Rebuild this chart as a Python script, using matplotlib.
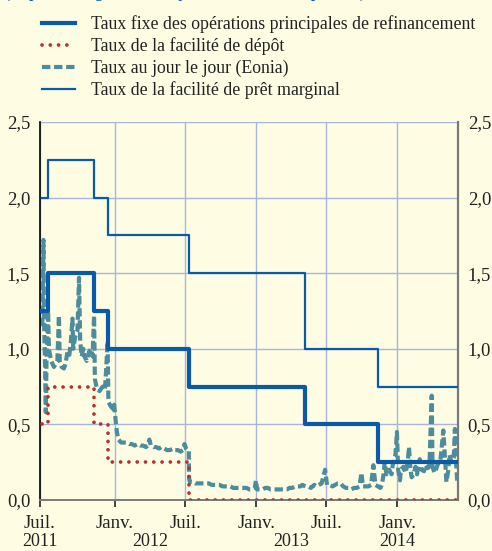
import matplotlib
matplotlib.use("Agg")
import matplotlib.pyplot as plt
from matplotlib.transforms import blended_transform_factory
import pandas as pd

plt.rcParams['font.family'] = ['Liberation Serif', 'DejaVu Serif']

# taux directeurs (dates de changement et niveaux)
key_dates = ["2011-06-27", "2011-07-13", "2011-11-09", "2011-12-14",
             "2012-07-11", "2013-05-08", "2013-11-13", "2014-06-06"]
mro = [1.25, 1.50, 1.25, 1.00, 0.75, 0.50, 0.25, 0.25]
depot = [0.50, 0.75, 0.50, 0.25, 0.00, 0.00, 0.00, 0.00]
pret_marginal = [2.00, 2.25, 2.00, 1.75, 1.50, 1.00, 0.75, 0.75]

# Eonia
eonia_dates = [
    "2011-06-27", "2011-06-30", "2011-07-01", "2011-07-04", "2011-07-06", "2011-07-08",
    "2011-07-12", "2011-07-14", "2011-07-20", "2011-07-27", "2011-08-01", "2011-08-05",
    "2011-08-09", "2011-08-11", "2011-08-16", "2011-08-22", "2011-08-26", "2011-08-31",
    "2011-09-05", "2011-09-09", "2011-09-13", "2011-09-15", "2011-09-20", "2011-09-26",
    "2011-09-30", "2011-10-03", "2011-10-07", "2011-10-11", "2011-10-14", "2011-10-20",
    "2011-10-26", "2011-10-31", "2011-11-04", "2011-11-08", "2011-11-10", "2011-11-15",
    "2011-11-22", "2011-11-30", "2011-12-06", "2011-12-09", "2011-12-13", "2011-12-15",
    "2011-12-21", "2011-12-28", "2011-12-30",
    "2012-01-03", "2012-01-06", "2012-01-10", "2012-01-17", "2012-01-24", "2012-01-31",
    "2012-02-07", "2012-02-14", "2012-02-21", "2012-02-29", "2012-03-07", "2012-03-14",
    "2012-03-21", "2012-03-26", "2012-03-30", "2012-04-03", "2012-04-10", "2012-04-17",
    "2012-04-24", "2012-04-30", "2012-05-08", "2012-05-15", "2012-05-22", "2012-05-31",
    "2012-06-05", "2012-06-12", "2012-06-19", "2012-06-25", "2012-06-29", "2012-07-03",
    "2012-07-06", "2012-07-10", "2012-07-11", "2012-07-13", "2012-07-20", "2012-07-27",
    "2012-08-03", "2012-08-10", "2012-08-17", "2012-08-24", "2012-08-31", "2012-09-07",
    "2012-09-14", "2012-09-21", "2012-09-28", "2012-10-05", "2012-10-12", "2012-10-19",
    "2012-10-26", "2012-11-02", "2012-11-09", "2012-11-16", "2012-11-23", "2012-11-30",
    "2012-12-07", "2012-12-14", "2012-12-21", "2012-12-28", "2012-12-31",
    "2013-01-03", "2013-01-10", "2013-01-17", "2013-01-24", "2013-01-31", "2013-02-07",
    "2013-02-14", "2013-02-21", "2013-02-28", "2013-03-07", "2013-03-14", "2013-03-21",
    "2013-03-28", "2013-04-04", "2013-04-11", "2013-04-18", "2013-04-25", "2013-04-30",
    "2013-05-08", "2013-05-15", "2013-05-22", "2013-05-31", "2013-06-05", "2013-06-12",
    "2013-06-19", "2013-06-28", "2013-07-03", "2013-07-10", "2013-07-17", "2013-07-24",
    "2013-07-31", "2013-08-07", "2013-08-14", "2013-08-21", "2013-08-28", "2013-09-04",
    "2013-09-11", "2013-09-18", "2013-09-25", "2013-09-30", "2013-10-04", "2013-10-11",
    "2013-10-18", "2013-10-25", "2013-10-31", "2013-11-05", "2013-11-12", "2013-11-18",
    "2013-11-22", "2013-11-27", "2013-11-29", "2013-12-04", "2013-12-11", "2013-12-17",
    "2013-12-20", "2013-12-27", "2013-12-31",
    "2014-01-03", "2014-01-08", "2014-01-10", "2014-01-17", "2014-01-22", "2014-01-28",
    "2014-01-31", "2014-02-04", "2014-02-07", "2014-02-12", "2014-02-17", "2014-02-21",
    "2014-02-28", "2014-03-05", "2014-03-11", "2014-03-14", "2014-03-20", "2014-03-25",
    "2014-03-31", "2014-04-02", "2014-04-07", "2014-04-11", "2014-04-16", "2014-04-22",
    "2014-04-30", "2014-05-05", "2014-05-08", "2014-05-13", "2014-05-16", "2014-05-21",
    "2014-05-27", "2014-05-30", "2014-06-02", "2014-06-05",
]
eonia = [
    1.15, 1.72, 1.25, 0.90, 0.58, 0.95,
    1.25, 1.00, 0.92, 0.88, 0.90, 0.92,
    1.22, 0.92, 0.88, 0.87, 0.90, 0.98,
    0.96, 1.05, 1.20, 1.00, 1.08, 1.12,
    1.47, 1.05, 0.95, 1.00, 0.95, 0.92,
    0.98, 1.00, 0.95, 1.22, 0.80, 0.74,
    0.72, 0.75, 0.73, 0.85, 1.05, 0.65,
    0.62, 0.60, 0.63,
    0.52, 0.45, 0.40, 0.38, 0.38, 0.38,
    0.37, 0.37, 0.36, 0.37, 0.36, 0.36,
    0.35, 0.36, 0.40, 0.36, 0.35, 0.35,
    0.34, 0.35, 0.34, 0.33, 0.33, 0.34,
    0.33, 0.33, 0.32, 0.33, 0.37, 0.34,
    0.33, 0.33, 0.14, 0.12, 0.12, 0.11,
    0.11, 0.11, 0.11, 0.11, 0.11, 0.10,
    0.10, 0.10, 0.10, 0.09, 0.09, 0.09,
    0.09, 0.08, 0.08, 0.08, 0.08, 0.08,
    0.08, 0.07, 0.07, 0.08, 0.13,
    0.07, 0.07, 0.07, 0.08, 0.08, 0.07,
    0.07, 0.07, 0.07, 0.07, 0.07, 0.07,
    0.08, 0.08, 0.09, 0.09, 0.09, 0.10,
    0.09, 0.09, 0.08, 0.10, 0.09, 0.10,
    0.11, 0.20, 0.10, 0.10, 0.09, 0.10,
    0.11, 0.11, 0.09, 0.08, 0.08, 0.07,
    0.08, 0.08, 0.09, 0.18, 0.09, 0.09,
    0.09, 0.10, 0.23, 0.10, 0.09, 0.08,
    0.10, 0.18, 0.25, 0.17, 0.20, 0.17,
    0.23, 0.30, 0.45,
    0.20, 0.13, 0.20, 0.22, 0.18, 0.25,
    0.35, 0.20, 0.15, 0.17, 0.22, 0.17,
    0.27, 0.20, 0.19, 0.23, 0.21, 0.22,
    0.69, 0.22, 0.18, 0.20, 0.24, 0.25,
    0.46, 0.25, 0.12, 0.20, 0.30, 0.25,
    0.28, 0.47, 0.25, 0.12,
]

y_ticks = [0.0, 0.5, 1.0, 1.5, 2.0, 2.5]
y_labels = ["0,0", "0,5", "1,0", "1,5", "2,0", "2,5"]
x_ticks = ["2011-06-21", "2012-01-01", "2012-07-01", "2013-01-01", "2013-07-01", "2014-01-01"]
x_labels = ["Juil.", "Janv.", "Juil.", "Janv.", "Juil.", "Janv."]
years = ["2011", "2012", "2013", "2014"]
year_pos = ["2011-06-21", "2012-04-01", "2013-04-01", "2014-01-01"]

labels = ["Taux fixe des opérations principales de refinancement",
          "Taux de la facilité de dépôt",
          "Taux au jour le jour (Eonia)",
          "Taux de la facilité de prêt marginal"]

bg = "#fefde3"
blue = "#0a5aa8"
red = "#b5332e"
teal = "#4c8c9c"
grid_c = "#aab5de"
txt = "#222222"

kd = pd.to_datetime(key_dates)
ed = pd.to_datetime(eonia_dates)

fig = plt.figure(figsize=(4.92, 5.51), dpi=100, facecolor=bg)
ax = fig.add_axes([40 / 492, 1 - 500 / 551, 418 / 492, 378 / 551], facecolor=bg)

l1, = ax.plot(kd, mro, drawstyle="steps-post", color=blue, lw=3.0, zorder=4)
l2, = ax.plot(kd, depot, drawstyle="steps-post", color=red, lw=2.7,
              linestyle=(0, (0.01, 2.2)), dash_capstyle="round", zorder=3)
l3, = ax.plot(ed, eonia, color=teal, lw=3.0, linestyle=(0, (2.0, 0.9)), zorder=2)
l4, = ax.plot(kd, pret_marginal, drawstyle="steps-post", color=blue, lw=1.6, zorder=4)

ax.set_xlim(pd.Timestamp("2011-06-21"), pd.Timestamp("2014-06-07"))
ax.set_ylim(0, 2.5)
ax.set_yticks(y_ticks)
ax.set_yticklabels(y_labels)
ax.set_xticks(pd.to_datetime(x_ticks))
ax.set_xticklabels(x_labels)

ax.grid(True, color=grid_c, lw=1.0)
ax.set_axisbelow(True)
ax.spines["top"].set_visible(False)
ax.spines["left"].set_color("black")
ax.spines["left"].set_linewidth(1.2)
ax.spines["right"].set_color("#7a7a7a")
ax.spines["right"].set_linewidth(1.6)
ax.spines["bottom"].set_color("#7a7a7a")
ax.spines["bottom"].set_linewidth(1.4)

ax.tick_params(axis="y", length=0, labelsize=13.5, labelright=True, pad=7, colors=txt)
ax.tick_params(axis="x", direction="out", length=5, width=1.2, color=txt,
               labelsize=13.5, pad=5.5, labelcolor=txt)

tr = blended_transform_factory(ax.transData, ax.transAxes)
for yr, pos in zip(years, year_pos):
    ax.text(pd.Timestamp(pos), -0.109, yr, transform=tr, ha="center", va="center",
            fontsize=13, color=txt)

fig.text(5 / 492, 1 + 2.5 / 551, "(en pourcentage ; données journalières ; fin de période)",
         ha="left", va="baseline", fontsize=11, color=blue, fontweight="bold")

fig.legend([l1, l2, l3, l4], labels, loc="upper left", bbox_to_anchor=(35 / 492, 1 - 8 / 551),
           frameon=False, fontsize=12.8, handlelength=1.85, handletextpad=0.9,
           labelspacing=0.25, borderaxespad=0, labelcolor=txt)

fig.savefig("out.png", dpi=100, facecolor=bg)
